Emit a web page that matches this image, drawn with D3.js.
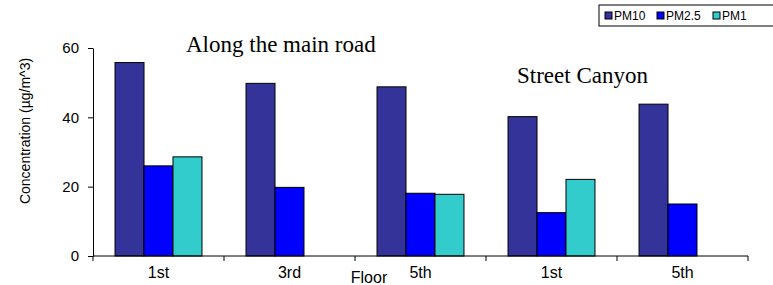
<!DOCTYPE html>
<html>
<head>
<meta charset="utf-8">
<script src="https://cdn.jsdelivr.net/npm/d3@7"></script>
<style>
  body { margin: 0; background: #fff; }
  .axis text { font-family: "Liberation Sans", Arial, sans-serif; fill: #000; }
  .axis path, .axis line { stroke: #000; }
</style>
</head>
<body>
<svg id="chart" width="773" height="285"></svg>
<script>
const width = 773;
const height = 285;

/* DATA */
const floors = ["1st", "3rd", "5th", "1st", "5th"];
const seriesNames = ["PM10", "PM2.5", "PM1"];
const pm10 = [55.8, 49.8, 48.8, 40.2, 43.8];
const pm25 = [26.0, 19.8, 18.1, 12.5, 15.0];
const pm1 = [28.6, null, 17.8, 22.1, null];
const yTicks = [0, 20, 40, 60];
const colors = ["#333399", "#0000ff", "#33cccc"];

const margin = { top: 48, bottom: 29, left: 93, right: 25 };

let svg = d3.select("svg#chart");
const plot = svg.append("g").attr("id", "plot")
  .attr("transform", translate(margin.left, margin.top));

const plotWidth = width - margin.left - margin.right;
const plotHeight = height - margin.top - margin.bottom;

/* SCALES */
const x = d3.scaleBand()
  .domain(d3.range(floors.length))
  .range([0, plotWidth])
  .padding(0);

const xSub = d3.scaleBand()
  .domain(seriesNames)
  .range([0, x.bandwidth()])
  .paddingInner(0)
  .paddingOuter(0.76);

const y = d3.scaleLinear()
  .domain([0, 60])
  .range([plotHeight, 0]);

const color = d3.scaleOrdinal().domain(seriesNames).range(colors);

/* BARS */
const table = floors.map((f, i) => ({
  index: i,
  values: [
    { key: "PM10", value: pm10[i] },
    { key: "PM2.5", value: pm25[i] },
    { key: "PM1", value: pm1[i] }
  ].filter(d => d.value !== null)
}));

let groups = plot.selectAll("g.group")
  .data(table)
  .enter()
  .append("g")
  .attr("class", "group")
  .attr("transform", d => translate(x(d.index), 0));

groups.selectAll("rect")
  .data(d => d.values)
  .enter()
  .append("rect")
  .attr("x", d => xSub(d.key))
  .attr("y", d => y(d.value))
  .attr("width", xSub.bandwidth())
  .attr("height", d => y(0) - y(d.value))
  .attr("fill", d => color(d.key))
  .attr("stroke", "#000")
  .attr("stroke-width", 1);

/* AXES */
const yAxis = d3.axisLeft(y)
  .tickValues(yTicks)
  .tickSize(5)
  .tickSizeOuter(0)
  .tickPadding(9);

plot.append("g")
  .attr("class", "axis")
  .call(yAxis)
  .call(g => g.selectAll("text").style("font-size", "15px"));

// x axis: ticks at band boundaries, labels centered in bands
const xAxisGroup = plot.append("g")
  .attr("class", "axis")
  .attr("transform", translate(0, plotHeight));

xAxisGroup.append("line")
  .attr("x1", 0).attr("x2", plotWidth)
  .attr("stroke", "#000");

xAxisGroup.selectAll("line.tick")
  .data(d3.range(floors.length + 1))
  .enter()
  .append("line")
  .attr("class", "tick")
  .attr("x1", d => d < floors.length ? x(d) : plotWidth)
  .attr("x2", d => d < floors.length ? x(d) : plotWidth)
  .attr("y1", 0)
  .attr("y2", 5)
  .attr("stroke", "#000");

xAxisGroup.selectAll("text")
  .data(floors)
  .enter()
  .append("text")
  .attr("x", (d, i) => x(i) + x.bandwidth() / 2)
  .attr("y", 22)
  .attr("text-anchor", "middle")
  .style("font-size", "16px")
  .text(d => d);

/* TITLES */
svg.append("text")
  .attr("x", 186)
  .attr("y", 52)
  .attr("font-family", "Liberation Serif, Times New Roman, serif")
  .attr("font-size", 23)
  .text("Along the main road");

svg.append("text")
  .attr("x", 517)
  .attr("y", 83)
  .attr("font-family", "Liberation Serif, Times New Roman, serif")
  .attr("font-size", 23)
  .text("Street Canyon");

svg.append("text")
  .attr("transform", translate(30, 131) + " rotate(-90)")
  .attr("text-anchor", "middle")
  .attr("font-family", "Liberation Sans, Arial, sans-serif")
  .attr("font-size", 14)
  .text("Concentration (\u00b5g/m^3)");

svg.append("text")
  .attr("x", 369)
  .attr("y", 283)
  .attr("text-anchor", "middle")
  .attr("font-family", "Liberation Sans, Arial, sans-serif")
  .attr("font-size", 16)
  .text("Floor");

/* LEGEND */
const legend = svg.append("g").attr("id", "legend")
  .attr("transform", translate(599, 5));

legend.append("rect")
  .attr("x", 0).attr("y", 0)
  .attr("width", 190).attr("height", 21)
  .attr("fill", "#fff")
  .attr("stroke", "#000");

const legendItems = legend.selectAll("g.item")
  .data(seriesNames)
  .enter()
  .append("g")
  .attr("class", "item")
  .attr("transform", (d, i) => translate(6 + [0, 52, 108][i], 0));

legendItems.append("rect")
  .attr("x", 0).attr("y", 7)
  .attr("width", 7).attr("height", 7)
  .attr("fill", d => color(d))
  .attr("stroke", "#000");

legendItems.append("text")
  .attr("x", 9).attr("y", 15)
  .attr("font-family", "Liberation Sans, Arial, sans-serif")
  .attr("font-size", 12)
  .text(d => d);

function translate(x, y) {
  return 'translate(' + String(x) + ',' + String(y) + ')';
}
</script>
</body>
</html>
